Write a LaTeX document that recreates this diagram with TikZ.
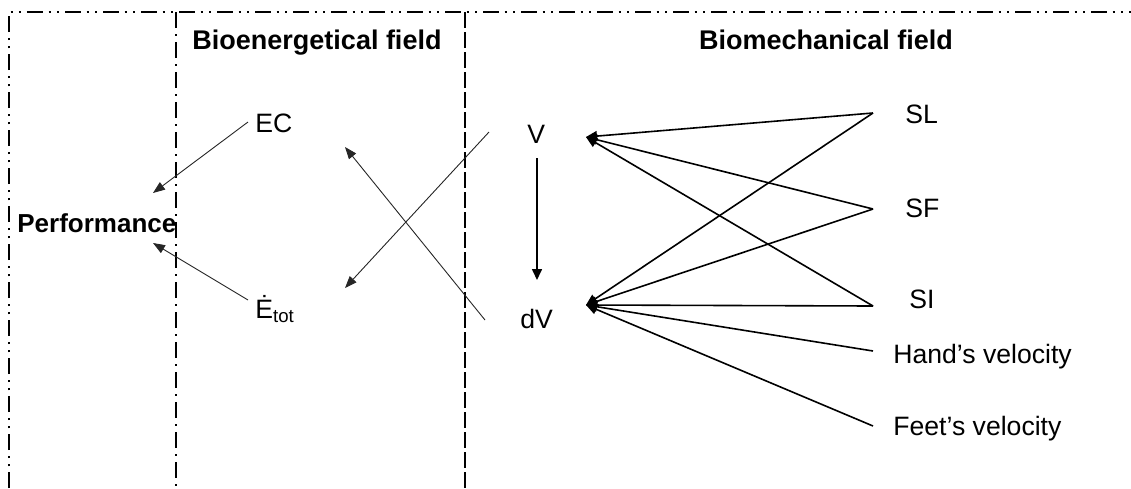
\documentclass[tikz,border=0pt]{standalone}
\usepackage{fontspec}
\setmainfont{Liberation Sans}
\usepackage{tikz}
\usetikzlibrary{arrows.meta,positioning,calc}

\begin{document}
\begin{tikzpicture}[x=0.5pt, y=-0.5pt,
  lbl/.style={inner sep=0pt, anchor=base west, font=\fontsize{13.3}{16}\selectfont},
  title/.style={inner sep=0pt, anchor=base, font=\fontsize{13.5}{16}\selectfont\bfseries},
  thin/.style={-{Triangle[length=6pt, width=4.5pt]}, line width=0.45pt, black!85},
  thick/.style={-{Triangle[length=5.5pt, width=5pt]}, line width=0.8pt},
  ddot/.style={line width=0.9pt, dash pattern=on 7.8pt off 3pt on 1pt off 3.2pt on 1pt off 3pt},
  dashdot/.style={line width=0.9pt, dash pattern=on 8pt off 3pt on 1pt off 3pt},
  longdash/.style={line width=1pt, dash pattern=on 8pt off 2pt}
]
  \useasboundingbox (0,0) rectangle (1131,488);

  % Fields
  \draw[ddot] (9,488) -- (9,12) -- (1131,12);
  \draw[dashdot] (176,12) -- (176,488);
  \draw[longdash] (465,12) -- (465,488);
  \node[title] (bioen) at (317,49) {Bioenergetical field};
  \node[title] (biomech) at (826,49) {Biomechanical field};

  % Nodes
  \node[lbl, font=\fontsize{13}{16}\selectfont\bfseries] (perf) at (17,232) {Performance};
  \node[lbl] (ec) at (255,132) {EC};
  \node[lbl] (etot) at (255,318) {Ė\textsubscript{tot}};
  \node[lbl] (v) at (527,143) {V};
  \node[lbl] (dv) at (520,328) {dV};
  \node[lbl] (sl) at (905,123) {SL};
  \node[lbl] (sf) at (905,217) {SF};
  \node[lbl] (si) at (909,308) {SI};
  \node[lbl] (hv) at (893,363) {Hand’s velocity};
  \node[lbl] (fv) at (893,435) {Feet’s velocity};

  % Ports
  \coordinate (perf-in1) at (153,193);
  \coordinate (perf-in2) at (153,243);
  \coordinate (ec-out) at (248,122);
  \coordinate (ec-in) at (345,147);
  \coordinate (etot-out) at (248,300);
  \coordinate (etot-in) at (345,288);
  \coordinate (v-out) at (489,132);
  \coordinate (v-bot) at (537,158);
  \coordinate (v-in) at (586,137);
  \coordinate (dv-out) at (485,320);
  \coordinate (dv-top) at (537,280);
  \coordinate (dv-in) at (586,305);
  \coordinate (sl-out) at (873,113);
  \coordinate (sf-out) at (873,209);
  \coordinate (si-out) at (873,306);
  \coordinate (hv-out) at (873,351);
  \coordinate (fv-out) at (873,426);

  % Arrows
  \draw[thin] (ec-out) -- (perf-in1);
  \draw[thin] (etot-out) -- (perf-in2);
  \draw[thin] (v-out) -- (etot-in);
  \draw[thin] (dv-out) -- (ec-in);
  \draw[thick] (v-bot) -- (dv-top);
  \foreach \s in {sl,sf,si}
    \draw[thick] (\s-out) -- (v-in);
  \foreach \s in {sl,sf,si,hv,fv}
    \draw[thick] (\s-out) -- (dv-in);
\end{tikzpicture}
\end{document}
